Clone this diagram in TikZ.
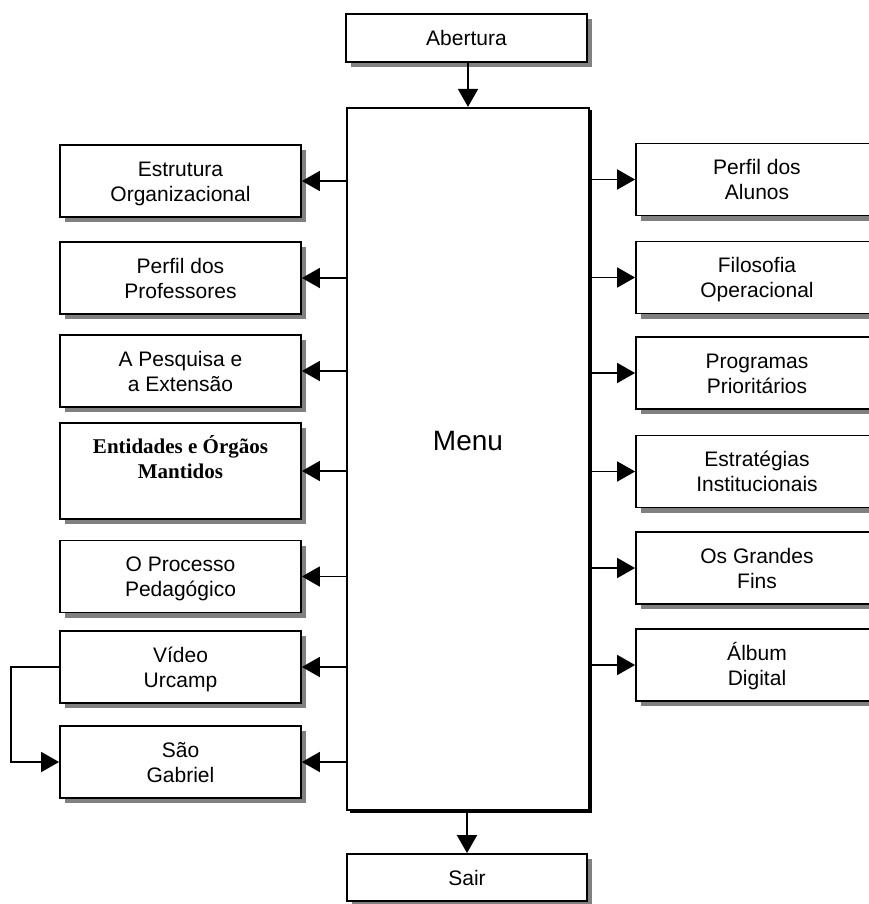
\documentclass[tikz,border=0pt]{standalone}
\usepackage{fontspec}
\setmainfont{Liberation Sans}
\newfontfamily\serifbold{Liberation Serif}
\usetikzlibrary{arrows.meta,shadows}
\begin{document}
\begin{tikzpicture}[x=1pt,y=-1pt,
  box/.style={draw,line width=1.8pt,fill=white,align=center,
    minimum width=241pt,minimum height=72pt,inner sep=0pt,
    font=\fontsize{21}{25}\selectfont,text height=40pt,text depth=0pt,
    drop shadow={shadow xshift=5pt,shadow yshift=-5pt,fill=black!50,opacity=1}},
  oneline/.style={text height=15pt},
  mainbox/.style={draw,line width=2.2pt,fill=white,align=center,
    minimum width=242pt,minimum height=702pt,inner sep=0pt,
    font=\fontsize{28}{32}\selectfont,text height=20pt,text depth=38pt,
    drop shadow={shadow xshift=2.5pt,shadow yshift=-2.5pt,fill=black,opacity=1}},
  link/.style={line width=1.8pt,-{Triangle[length=18pt,width=20pt]}}
]
\clip (0,0) rectangle (869,904);
\fill[white] (0,0) rectangle (869,904);

% top, centre and bottom
\node[box,oneline,minimum height=48pt] (abertura) at (466.5,38) {Abertura};
\node[mainbox] (menu) at (468,459) {Menu};
\node[box,oneline,minimum width=240pt,minimum height=47pt] (sair) at (467,877.5) {Sair};

% left column
\node[box] (e1) at (180.5,181) {Estrutura\\Organizacional};
\node[box] (e2) at (180.5,278) {Perfil dos\\Professores};
\node[box] (e3) at (180.5,371) {A Pesquisa e\\a Extensão};
\node[box,minimum height=96pt,text height=14pt,text depth=0pt,
      font=\serifbold\bfseries\fontsize{21}{25}\selectfont] (e4) at (180.5,471) {Entidades e Órgãos\\Mantidos};
\node[box] (e5) at (180.5,576.5) {O Processo\\Pedagógico};
\node[box] (e6) at (180.5,667) {Vídeo\\Urcamp};
\node[box] (e7) at (180.5,762) {São\\Gabriel};

% right column
\node[box,minimum width=242pt] (d1) at (757,179.5) {Perfil dos\\Alunos};
\node[box,minimum width=242pt] (d2) at (757,277.5) {Filosofia\\Operacional};
\node[box,minimum width=242pt] (d3) at (757,373) {Programas\\Prioritários};
\node[box,minimum width=242pt] (d4) at (757,471.5) {Estratégias\\Institucionais};
\node[box,minimum width=242pt] (d5) at (757,568) {Os Grandes\\Fins};
\node[box,minimum width=242pt] (d6) at (757,665) {Álbum\\Digital};

% connectors
\draw[link] (abertura.south -| menu.north) -- (menu.north);
\draw[link] (menu.south -| sair.north) -- (sair.north);
\foreach \n in {e1,e2,e3,e4,e5,e6,e7}
  \draw[link] (menu.west |- \n.east) -- (\n.east);
\foreach \n in {d1,d2,d3,d4,d5,d6}
  \draw[link] (menu.east |- \n.west) -- (\n.west);
\draw[link] (e6.west) -- ++(-48,0) |- (e7.west);
\end{tikzpicture}
\end{document}
